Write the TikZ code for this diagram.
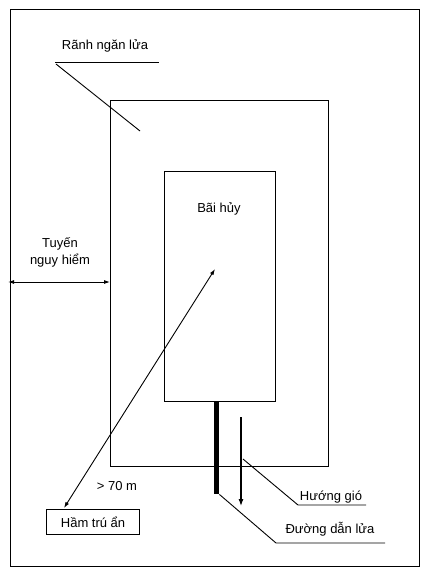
\documentclass[tikz,border=0pt]{standalone}
\usepackage{fontspec}
\setmainfont{Liberation Sans}
\usetikzlibrary{arrows.meta}
\begin{document}
\begin{tikzpicture}[x=1pt,y=-1pt,
  lbl/.style={font=\fontsize{13}{15}\selectfont, inner sep=0pt},
  thin line/.style={line width=0.9pt},
  box/.style={draw, line width=1.1pt, inner sep=0pt, anchor=north west},
  tip/.style={-{Latex[length=7pt,width=5pt]}},
  dtip/.style={{Latex[length=6pt,width=4pt]}-{Latex[length=6pt,width=4pt]}}]
\useasboundingbox (0,0) rectangle (433,576);
% rectangles
\node[box, minimum width=409pt, minimum height=557pt] (frame) at (10,9) {};
\node[box, minimum width=218pt, minimum height=366pt] (ranh) at (110,100) {};
\node[box, minimum width=111pt, minimum height=230pt] (bai) at (164,171) {};
\node[box, minimum width=93pt, minimum height=25pt] (ham) at (46,509) {};
% texts
\node[lbl] (rn) at (105,46) {Rãnh ngăn lửa};
\node[lbl] (bh) at (219,209) {Bãi hủy};
\node[lbl, align=center, font=\fontsize{13}{17}\selectfont] (tn) at (60,252) {Tuyến\\nguy hiểm};
\node[lbl] (d70) at (117,486) {> 70 m};
\node[lbl] at (ham.center) (hamt) {Hầm trú ẩn};
\node[lbl] (hg) at (331,497) {Hướng gió};
\node[lbl] (ddl) at (330,529) {Đường dẫn lửa};
% leader: Ranh ngan lua
\coordinate (rnL) at (55,62);
\coordinate (rnR) at (159,62);
\coordinate (rnS) at (56,64);
\coordinate (rnP) at (140,131);
\draw[thin line] (rnL) -- (rnR);
\draw[thin line] (rnS) -- (rnP);
% danger zone double arrow
\coordinate (tzL) at (8,282);
\coordinate (tzR) at (110,282);
\draw[thin line, dtip] (tzL) -- (tzR);
% distance arrow
\coordinate (dTop) at (215,269);
\coordinate (dBot) at (64,508);
\draw[thin line, dtip] (dTop) -- (dBot);
% fire guiding bar
\node[fill=black, inner sep=0pt, minimum width=5pt, minimum height=93pt, anchor=north west] (bar) at (214,401) {};
% wind arrow
\coordinate (wT) at (241,417);
\coordinate (wB) at (241,506);
\draw[line width=1.1pt, tip] (wT) -- (wB);
% leader Huong gio
\coordinate (hgP) at (243,459);
\coordinate (hgK) at (298,505);
\coordinate (hgE) at (366,505);
\draw[thin line] (hgP) -- (hgK) -- (hgE);
% leader Duong dan lua
\coordinate (ddK) at (276,543);
\coordinate (ddE) at (385,543);
\draw[thin line] (bar.south east) -- (ddK) -- (ddE);
\end{tikzpicture}
\end{document}
